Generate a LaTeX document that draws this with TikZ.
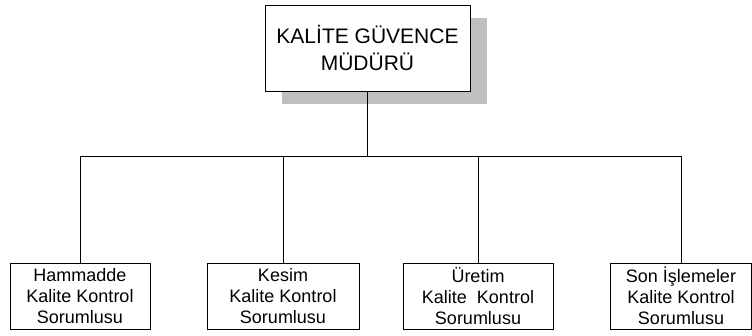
\documentclass[tikz,border=0pt]{standalone}
\usepackage{fontspec}
\setmainfont{Liberation Sans}
\usetikzlibrary{shadows}
\tikzset{
    mgrbox/.style={rectangle, draw=black, fill=white, line width=1pt,
        minimum width=205pt, minimum height=86pt, inner sep=0pt, align=center,
        font=\fontsize{21}{27}\selectfont,
        drop shadow={shadow xshift=17pt, shadow yshift=-13pt, fill=black!25, opacity=1}},
    unitbox/.style={rectangle, draw=black, fill=white, line width=1pt,
        minimum height=66pt, inner sep=0pt, align=center,
        font=\fontsize{18}{21}\selectfont},
    orgline/.style={line width=1pt, black},
}
\begin{document}
\begin{tikzpicture}[x=1pt, y=-1pt]
    \useasboundingbox (0,0) rectangle (752,335);
    % top node
    \node[mgrbox] (mgr) at (367.5,48) {KAL\.ITE GÜVENCE\\MÜDÜRÜ};
    % units
    \node[unitbox, minimum width=140pt] (u1) at (80,296) {Hammadde\\Kalite Kontrol\\Sorumlusu};
    \node[unitbox, minimum width=152pt] (u2) at (283,296) {Kesim\\Kalite Kontrol\\Sorumlusu};
    \node[unitbox, minimum width=150pt] (u3) at (478,296) {Üretim\\Kalite\ \ Kontrol\\Sorumlusu};
    \node[unitbox, minimum width=141pt] (u4) at (681,296) {Son \.I\c{s}lemeler\\Kalite Kontrol\\Sorumlusu};
    % connectors
    \coordinate (bus) at (367.5,156);
    \draw[orgline] (mgr.south) -- (bus);
    \draw[orgline] (u1.north |- bus) -- (u4.north |- bus);
    \foreach \u in {u1,u2,u3,u4}
        \draw[orgline] (\u.north |- bus) -- (\u.north);
\end{tikzpicture}
\end{document}
